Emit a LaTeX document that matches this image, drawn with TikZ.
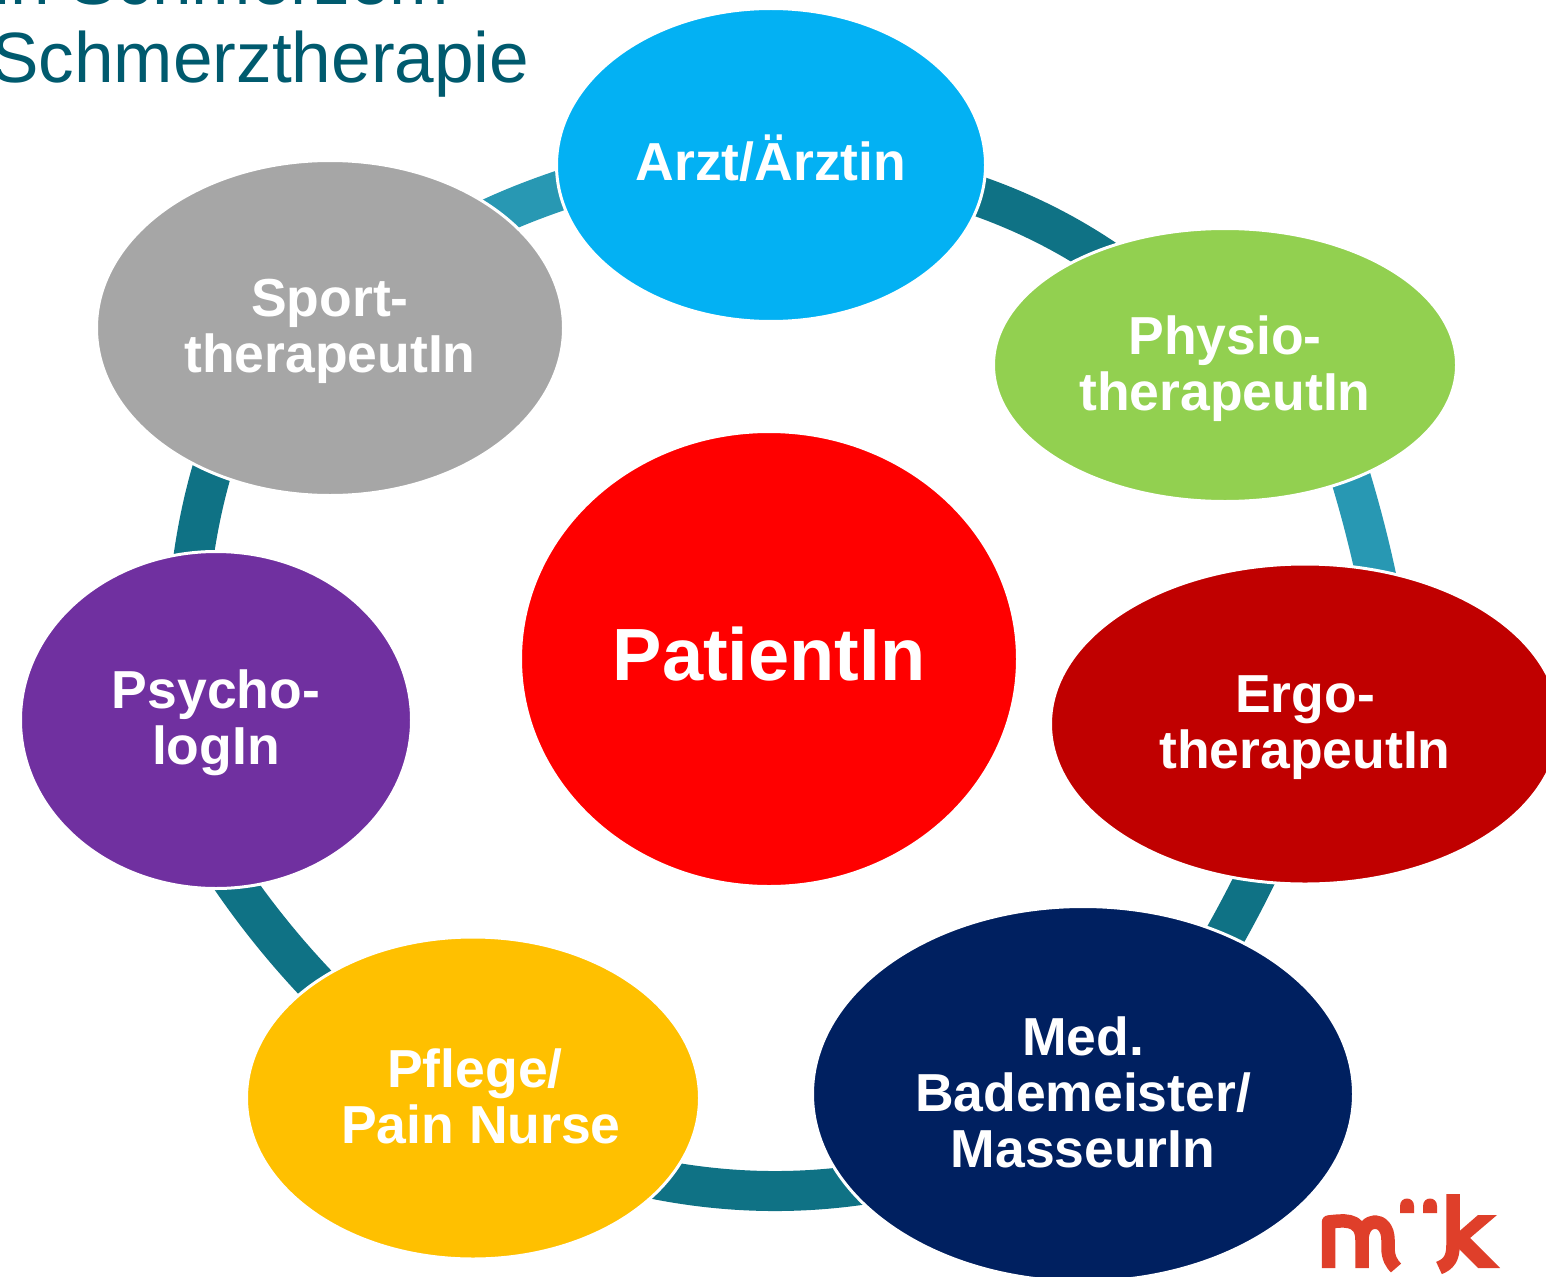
\documentclass[tikz,border=0pt]{standalone}
\usepackage{fontspec}
\setmainfont{Liberation Sans}
\usetikzlibrary{shapes.geometric,backgrounds}
\definecolor{arcdark}{HTML}{0F7285}
\definecolor{arclight}{HTML}{2898B3}
\definecolor{titlecol}{HTML}{005A6E}
\definecolor{logored}{HTML}{DF3F2A}
\tikzset{
  bub/.style={ellipse,inner sep=0pt,draw=white,line width=3pt},
  lab/.style={inner sep=0pt,text=white,align=center,font=\fontsize{53.5}{56}\selectfont\bfseries},
  ring/.style={line width=40pt,line cap=butt,line join=round},
  ringd/.style={ring,draw=arcdark},
  ringl/.style={ring,draw=arclight},
  titletext/.style={anchor=base west,inner sep=0pt,text=titlecol,font=\fontsize{71.2}{71.2}\selectfont},
  logostroke/.style={draw=logored,line width=13.5pt,line cap=butt,line join=round}
}
\begin{document}
\begin{tikzpicture}[x=1pt,y=-1pt]
\useasboundingbox (0,0) rectangle (1546,1276);
\clip (0,0) rectangle (1546,1276);
\node[bub,fill={rgb,255:red,3;green,177;blue,243},minimum width=429pt,minimum height=313pt] (arzt) at (771,165) {};
\node[bub,fill={rgb,255:red,146;green,208;blue,80},minimum width=463pt,minimum height=273pt] (physio) at (1225,365) {};
\node[bub,fill={rgb,255:red,192;green,0;blue,0},minimum width=509pt,minimum height=320pt] (ergo) at (1305,724) {};
\node[bub,fill={rgb,255:red,0;green,32;blue,96},minimum width=541pt,minimum height=375pt] (med) at (1083,1094) {};
\node[bub,fill={rgb,255:red,255;green,192;blue,0},minimum width=453pt,minimum height=322pt] (pflege) at (473,1098) {};
\node[bub,fill={rgb,255:red,112;green,48;blue,160},minimum width=391pt,minimum height=337pt] (psycho) at (216,720) {};
\node[bub,fill={rgb,255:red,166;green,166;blue,166},minimum width=467pt,minimum height=335pt] (sport) at (330,328) {};
\node[bub,fill=red,minimum width=497pt,minimum height=455pt] (patient) at (769,659) {};
\node[lab,yshift=7pt] (tarzt) at (arzt) {Arzt/Ärztin};
\node[lab,yshift=-3.5pt] (tphysio) at (physio) {Physio-\\therapeutIn};
\node[lab,yshift=-4pt] (tergo) at (ergo) {Ergo-\\therapeutIn};
\node[lab,yshift=2pt] (tmed) at (med) {Med.\\Bademeister/\\MasseurIn};
\node[lab,yshift=2pt] (tpflege) at (pflege) {\hspace*{4pt}Pflege/\\\hspace*{16pt}Pain Nurse};
\node[lab,yshift=-3pt] (tpsycho) at (psycho) {Psycho-\\logIn};
\node[lab,yshift=-3pt] (tsport) at (sport) {Sport-\\therapeutIn};
\node[lab,yshift=5pt,font=\fontsize{74}{78}\selectfont\bfseries] (tpatient) at (patient) {PatientIn};
\begin{scope}[on background layer]
\draw[ringd] (arzt.center) -- (950,187) .. controls (1011.7,205.3) and (1067.3,232.3) .. (1117,268) -- (physio.center);
\draw[ringl] (physio.center) -- (1342,450) .. controls (1358.3,500) and (1371.3,550) .. (1381,600) -- (ergo.center);
\draw[ringd] (ergo.center) -- (1265,858) .. controls (1249.3,891.3) and (1231.7,924.7) .. (1212,958) -- (med.center);
\draw[ringd] (med.center) -- (905,1177) .. controls (818.3,1195.7) and (731.7,1195.7) .. (645,1177) -- (pflege.center);
\draw[ringd] (pflege.center) -- (335,1003) .. controls (292.7,961) and (255,915) .. (222,865) -- (psycho.center);
\draw[ringd] (psycho.center) -- (190,585) .. controls (195.3,534.3) and (205.3,487.7) .. (220,445) -- (sport.center);
\draw[ringl] (sport.center) -- (470,228) .. controls (510,207.7) and (550,193) .. (590,181) -- (arzt.center);
\end{scope}
\node[titletext] (title) at (-9,82.5) {Schmerztherapie};
\node[titletext] (title0) at (-6,5) {in Schmerzem};
% logo
\draw[logostroke] (1328.5,1268) -- (1328.5,1222) .. controls (1340,1221) and (1362,1216) .. (1362,1240) -- (1362,1268);
\draw[logostroke] (1362,1240) .. controls (1362,1216) and (1388,1216) .. (1388,1240) -- (1388,1248) .. controls (1388,1258) and (1392,1264) .. (1396,1268);
\fill[logored] (1400,1206) .. controls (1400,1196) and (1414,1196) .. (1414,1206) -- (1414,1213) -- (1400,1213) -- cycle;
\fill[logored] (1423,1206) .. controls (1423,1196) and (1437,1196) .. (1437,1206) -- (1437,1213) -- (1423,1213) -- cycle;
\draw[logostroke] (1453,1194) -- (1453,1245) .. controls (1453,1258) and (1449,1264) .. (1439,1268);
\fill[logored] (1478,1215) -- (1497,1215) -- (1470,1238) -- (1500,1268) -- (1478,1268) -- (1455,1245) -- (1455,1235) -- cycle;
\end{tikzpicture}
\end{document}
